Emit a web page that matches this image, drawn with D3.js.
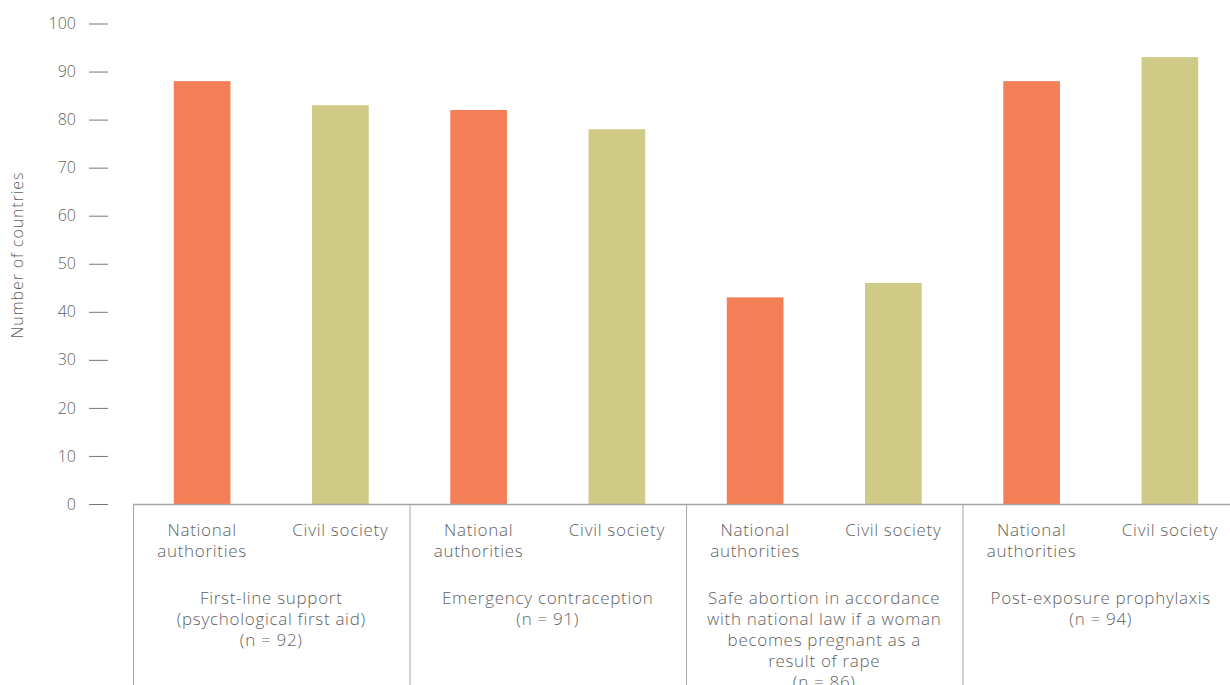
<!DOCTYPE html>
<html><head><meta charset="utf-8">
<script src="https://cdn.jsdelivr.net/npm/d3@7"></script>
<style>
html,body{margin:0;padding:0;background:#fff;overflow:hidden;}
svg{display:block;font-family:"Open Sans",Lato,sans-serif;}
</style></head>
<body><svg id="chart" width="1230" height="685"></svg>
<script>
const groups = [
  ["First-line support", "(psychological first aid)", "(n = 92)"],
  ["Emergency contraception", "(n = 91)"],
  ["Safe abortion in accordance", "with national law if a woman", "becomes pregnant as a", "result of rape", "(n = 86)"],
  ["Post-exposure prophylaxis", "(n = 94)"]
];
const seriesNames = ["National authorities", "Civil society"];
const seriesLabelLines = [["National", "authorities"], ["Civil society"]];
const nationalAuthorities = [88, 82, 43, 88];
const civilSociety = [83, 78, 46, 93];
const yTicks = [0, 10, 20, 30, 40, 50, 60, 70, 80, 90, 100];
const colors = ["#F47E55", "#CFCA86"];

const svg = d3.select("#chart");
const textColor = "#5f5f5f";
const lineColor = "#a6a6a6";
const font = "'Open Sans', Lato, sans-serif";
const y = d3.scaleLinear().domain([0, 100]).range([504, 23.5]);
const x0 = d3.scaleBand().domain(d3.range(groups.length)).range([133, 1239]).padding(0);
const x1 = d3.scaleBand().domain([0, 1]).range([0, x0.bandwidth()]).paddingInner(0.59).paddingOuter(0.295);

const values = [nationalAuthorities, civilSociety];

// y axis
const yAxis = d3.axisLeft(y).tickValues(yTicks).tickSize(19).tickPadding(13);
const yg = svg.append("g").attr("transform", "translate(108,0)").call(yAxis);
yg.select(".domain").remove();
yg.selectAll(".tick line").attr("stroke", "#777").attr("stroke-width", 1);
yg.selectAll(".tick text").attr("fill", textColor).style("font-size", "16px").style("font-family", font).style("font-weight", 300);

svg.append("text").attr("transform", "translate(23,255) rotate(-90)").attr("text-anchor", "middle")
  .attr("fill", textColor).style("font-size", "16px").style("font-family", font).style("font-weight", 300)
  .style("letter-spacing", "0.9px").text("Number of countries");

// bars
groups.forEach((g, gi) => {
  const gx = x0(gi);
  seriesNames.forEach((s, si) => {
    const v = values[si][gi];
    svg.append("rect").attr("x", gx + x1(si)).attr("width", x1.bandwidth())
      .attr("y", y(v)).attr("height", y(0) - y(v)).attr("fill", colors[si]);
    const t = svg.append("text").attr("text-anchor", "middle").attr("fill", textColor)
      .style("font-size", "17px").style("font-family", font).style("font-weight", 300).style("letter-spacing", "0.7px");
    seriesLabelLines[si].forEach((ln, li) => {
      t.append("tspan").attr("x", gx + x1(si) + x1.bandwidth() / 2).attr("y", 536 + li * 21).text(ln);
    });
  });
  const t2 = svg.append("text").attr("text-anchor", "middle").attr("fill", textColor)
    .style("font-size", "17px").style("font-family", font).style("font-weight", 300).style("letter-spacing", "0.7px");
  g.forEach((ln, li) => {
    t2.append("tspan").attr("x", gx + x0.bandwidth() / 2).attr("y", 604 + li * 21).text(ln);
  });
  svg.append("line").attr("x1", gx + 0.5).attr("x2", gx + 0.5).attr("y1", y(0)).attr("y2", 685)
    .attr("stroke", lineColor).attr("stroke-width", 1);
});
svg.append("line").attr("x1", 133).attr("x2", 1239).attr("y1", y(0) + 0.5).attr("y2", y(0) + 0.5)
  .attr("stroke", lineColor).attr("stroke-width", 1.5);
</script></body></html>
